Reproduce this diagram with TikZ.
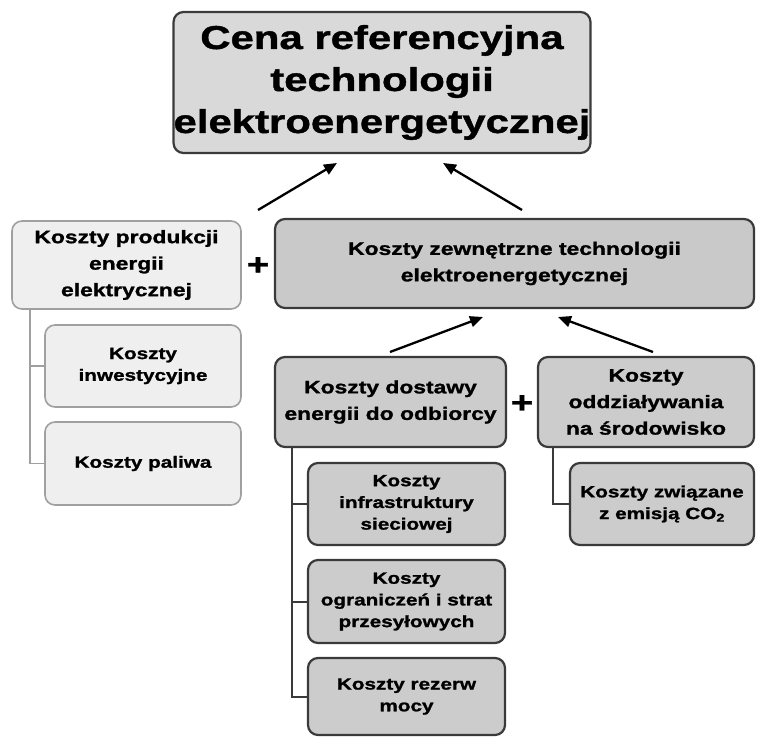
\documentclass[tikz,border=0pt]{standalone}
\usepackage{fontspec}
\usetikzlibrary{arrows.meta}
\newfontfamily\bfont[FakeStretch=1.27,FakeBold=1.3]{Liberation Sans Bold}
\definecolor{topfill}{HTML}{D9D9D9}
\definecolor{midfill}{HTML}{C9C9C9}
\definecolor{lowfill}{HTML}{CCCCCC}
\definecolor{lightfill}{HTML}{EFEFEF}
\definecolor{lightline}{HTML}{A0A0A0}
\definecolor{darkline}{HTML}{3A3A3A}
\begin{document}
\begin{tikzpicture}[x=1pt,y=-1pt,
  box/.style={rounded corners=10pt, align=center, inner sep=0pt, text=black},
  darkbox/.style={box, draw=darkline, line width=2.2pt},
  lightbox/.style={box, draw=lightline, line width=1.6pt, fill=lightfill},
  titletext/.style={font=\bfont\fontsize{33}{42}\selectfont},
  midtext/.style={font=\bfont\fontsize{18}{26.5}\selectfont},
  smalltext/.style={font=\bfont\fontsize{16.3}{21.7}\selectfont},
  arr/.style={line width=2.3pt, draw=black, -{Triangle[length=13pt,width=11pt]}},
  darktree/.style={draw=darkline, line width=2pt},
  lighttree/.style={draw=lightline, line width=1.6pt},
  plus/.style={font=\bfont\fontsize{30}{30}\selectfont, inner sep=0pt}
]
\useasboundingbox (0,0) rectangle (757,737);

% top box
\node[darkbox, fill=topfill, titletext, minimum width=412pt, minimum height=141pt] (top) at (382,82.5)
  {Cena referencyjna\\technologii\\elektroenergetycznej};

% left column
\node[lightbox, midtext, minimum width=229pt, minimum height=88pt] (prod) at (126.5,265)
  {Koszty produkcji\\energii\\elektrycznej};
\node[lightbox, smalltext, minimum width=196pt, minimum height=82pt] (inw) at (143,366)
  {Koszty\\inwestycyjne};
\node[lightbox, smalltext, minimum width=196pt, minimum height=83pt] (pal) at (143,463.5)
  {Koszty paliwa};

% external costs
\node[darkbox, fill=midfill, midtext, minimum width=479pt, minimum height=89pt] (zew) at (514.5,263.5)
  {Koszty zewnętrzne technologii\\elektroenergetycznej};

\node[darkbox, fill=lowfill, midtext, minimum width=231pt, minimum height=90pt] (dost) at (390.5,402)
  {Koszty dostawy\\energii do odbiorcy};
\node[darkbox, fill=lowfill, midtext, minimum width=216pt, minimum height=90pt] (odd) at (646,402)
  {Koszty\\oddziaływania\\na środowisko};

\node[darkbox, fill=lowfill, smalltext, minimum width=197pt, minimum height=82pt] (infra) at (406.5,504)
  {Koszty\\infrastruktury\\sieciowej};
\node[darkbox, fill=lowfill, smalltext, minimum width=197pt, minimum height=83pt] (ogr) at (406.5,601.5)
  {Koszty\\ograniczeń i strat\\przesyłowych};
\node[darkbox, fill=lowfill, smalltext, minimum width=197pt, minimum height=77pt] (rez) at (406.5,696.5)
  {Koszty rezerw\\mocy};
\node[darkbox, fill=lowfill, smalltext, minimum width=184pt, minimum height=82pt] (emis) at (662,504)
  {Koszty związane\\z emisją CO\textsubscript{2}};

% plus signs
\node[plus] (plus1) at (258,266) {+};
\node[plus] (plus2) at (522,404) {+};

% arrows
\coordinate (a1s) at (258,210);
\coordinate (a1e) at (337,163);
\coordinate (a2s) at (522,210);
\coordinate (a2e) at (443,163);
\coordinate (a3s) at (390,352);
\coordinate (a3e) at (483,317);
\coordinate (a4s) at (653,352);
\coordinate (a4e) at (558,317);
\draw[arr] (a1s) -- (a1e);
\draw[arr] (a2s) -- (a2e);
\draw[arr] (a3s) -- (a3e);
\draw[arr] (a4s) -- (a4e);

% trees
\coordinate (lt) at (30,309);
\draw[lighttree] (lt) |- (inw.west);
\draw[lighttree] (lt) |- (pal.west);
\coordinate (dt) at (292,447);
\draw[darktree] (dt) |- (infra.west);
\draw[darktree] (dt) |- (ogr.west);
\draw[darktree] (dt) |- (rez.west);
\coordinate (et) at (553,447);
\draw[darktree] (et) |- (emis.west);
\end{tikzpicture}
\end{document}
